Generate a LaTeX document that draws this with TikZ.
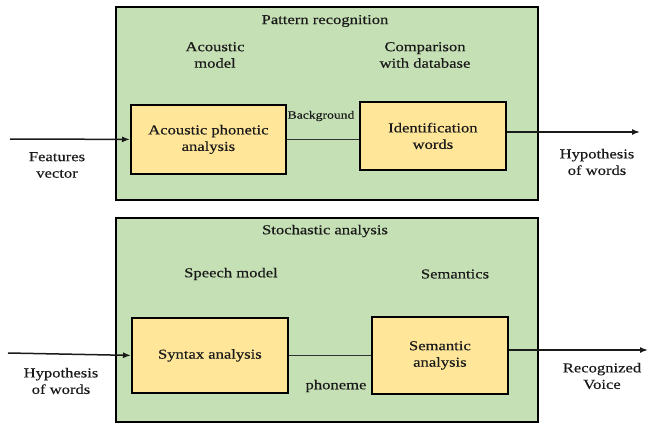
\documentclass[tikz,border=0pt]{standalone}
\usepackage{fontspec}
\setmainfont[FakeStretch=1.22]{Liberation Serif}
\newfontfamily\diagfont[FakeStretch=1.22,FakeBold=0.4]{Liberation Serif}
\usetikzlibrary{arrows.meta}
\definecolor{panelgreen}{HTML}{C5E0B4}
\definecolor{boxyellow}{HTML}{FFE699}
\definecolor{inkdark}{HTML}{1A1A1A}
\begin{document}
\begin{tikzpicture}[x=1pt,y=-1pt,
  every node/.style={font=\diagfont\fontsize{13.6}{16.5}\selectfont, inner sep=0pt, text=inkdark},
  panel/.style={draw=black, line width=1.8pt, fill=panelgreen, anchor=north west},
  procbox/.style={draw=black, line width=1.8pt, fill=boxyellow, anchor=north west, align=center},
  lbl/.style={align=center},
  small/.style={font=\diagfont\fontsize{11.2}{13}\selectfont},
  arr/.style={line width=1.5pt, draw=inkdark, -{Latex[length=8pt,width=6pt]}},
  conn/.style={line width=1.6pt, draw=inkdark!90!white}]
\useasboundingbox (0,0) rectangle (648,423);
% panels
\node[panel, minimum width=422pt, minimum height=193pt] (top) at (115,6) {};
\node[panel, minimum width=422pt, minimum height=204pt] (bot) at (115,217) {};
% top panel texts
\node[lbl] (t1) at (325,21) {Pattern recognition};
\node[lbl] (t2) at (215,55) {Acoustic\\model};
\node[lbl] (t3) at (425,55) {Comparison\\with database};
% top boxes
\node[procbox, minimum width=155pt, minimum height=69pt] (box1) at (130,104) {};
\node[lbl] (box1t) at (box1.center) {Acoustic phonetic\\analysis};
\node[procbox, minimum width=146pt, minimum height=68pt] (box2) at (359,101) {};
\node[lbl] (box2t) at (box2.center) {Identification\\words};
\node[lbl, small] (bg) at (321,116) {Background};
% top connectors
\coordinate (in1) at (10,139);
\draw[arr] (in1) -- (box1.west);
\draw[conn] (box1.east) -- (box2.west |- box1.east);
\coordinate (out1) at (640,132);
\draw[arr] (out1 -| box2.east) -- (out1);
\node[lbl] (fv) at (57,165) {Features\\vector};
\node[lbl] (hw1) at (597,162) {Hypothesis\\of words};
% bottom panel texts
\node[lbl] (s1) at (325,231) {Stochastic analysis};
\node[lbl] (s2) at (231,274) {Speech model};
\node[lbl] (s3) at (455,274) {Semantics};
% bottom boxes
\node[procbox, minimum width=156pt, minimum height=75pt] (box3) at (131,317) {};
\node[lbl] (box3t) at (box3.center) {Syntax analysis};
\node[procbox, minimum width=136pt, minimum height=77pt] (box4) at (371,316) {};
\node[lbl] (box4t) at (box4.center) {Semantic\\analysis};
\node[lbl] (ph) at (336,386) {phoneme};
% bottom connectors
\coordinate (in2) at (8,353);
\draw[arr] (in2) -- (box3.west);
\draw[conn] (box3.east) -- (box4.west |- box3.east);
\coordinate (out2) at (648,350);
\draw[arr] (out2 -| box4.east) -- (out2);
\node[lbl] (hw2) at (61,381) {Hypothesis\\of words};
\node[lbl] (rv) at (602,376) {Recognized\\Voice};
\end{tikzpicture}
\end{document}
